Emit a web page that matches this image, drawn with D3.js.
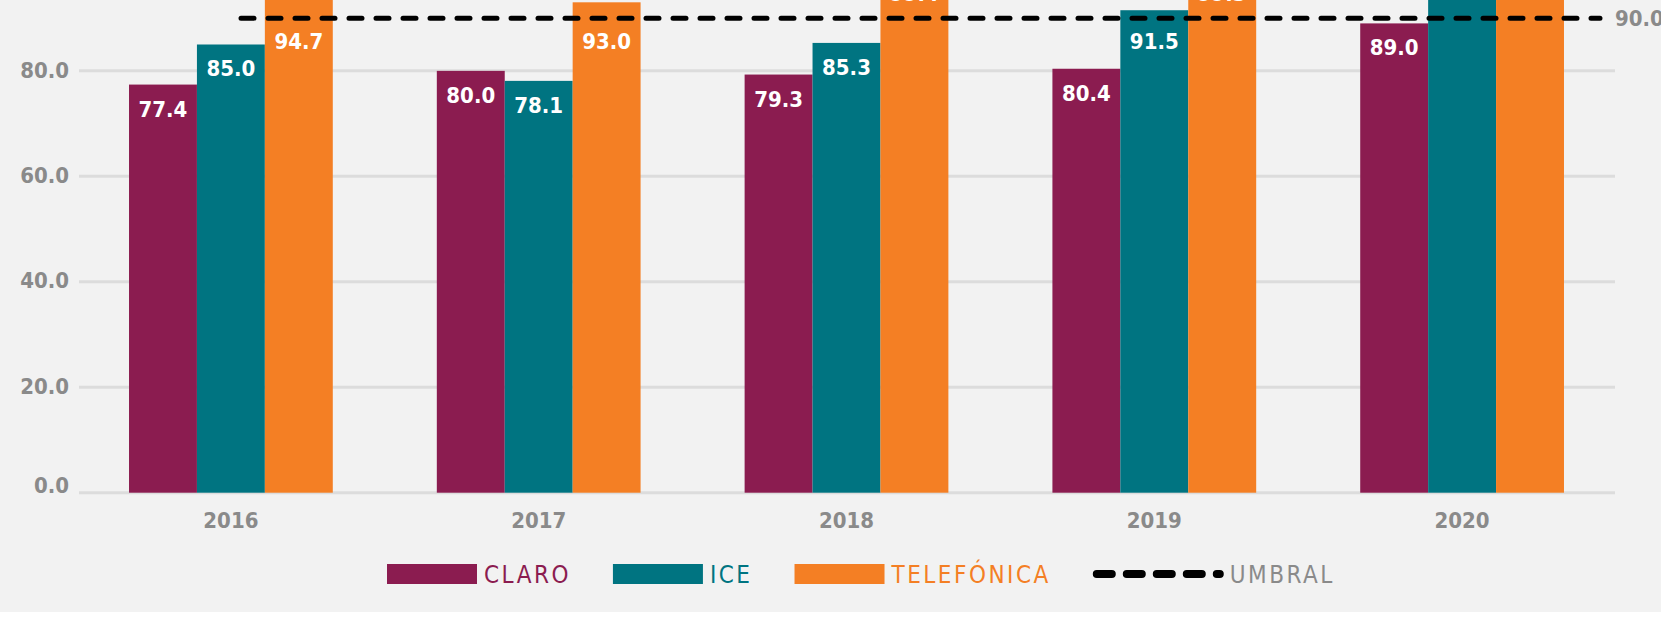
<!DOCTYPE html>
<html lang="es">

<head>
    <meta charset="UTF-8">
    <script src="https://d3js.org/d3.v7.min.js"></script>
    <title>Cobertura</title>
    <style>
        body {
            margin: 0;
            background: #ffffff;
        }

        text {
            font-family: "DejaVu Sans Condensed", "DejaVu Sans", sans-serif;
            font-stretch: condensed;
        }

        .num {
            font-size: 22px;
            font-weight: bold;
        }
    </style>
</head>

<body>
    <script>
        // data (tops of some bars are cut in the original)
        var years = ["2016", "2017", "2018", "2019", "2020"]
        var operators = ["CLARO", "ICE", "TELEFÓNICA"]
        var claro = [77.4, 80.0, 79.3, 80.4, 89.0]
        var ice = [85.0, 78.1, 85.3, 91.5, 100.0]
        var telefonica = [94.7, 93.0, 99.4, 99.3, 100.0]
        var umbral = 90.0
        var yTicks = [0, 20, 40, 60, 80]

        var colors = ["#8b1c50", "#007481", "#f47f24"]
        var gray = "#8a8a8a"

        var width = 1661, height = 631

        var rows = years.map(function (y, i) {
            return { year: y, values: [claro[i], ice[i], telefonica[i]] }
        })

        var svg = d3.select("body")
            .append("svg")
            .attr("width", width)
            .attr("height", height)

        svg.append("rect")
            .attr("width", width)
            .attr("height", 612)
            .attr("fill", "#f2f2f2")

        var x = d3.scaleBand()
            .domain(years)
            .range([77, 1616])
            .paddingInner(0.338)
            .paddingOuter(0.169)

        var xInner = d3.scaleBand()
            .domain(operators)
            .range([0, x.bandwidth()])

        var y = d3.scaleLinear()
            .domain([0, 100])
            .range([492.7, -34.6])

        // grid lines
        svg.append("g")
            .selectAll("line")
            .data(yTicks)
            .join("line")
            .attr("x1", 79)
            .attr("x2", 1615)
            .attr("y1", function (d) { return y(d) })
            .attr("y2", function (d) { return y(d) })
            .attr("stroke", "#dcdcdc")
            .attr("stroke-width", 3)

        // y axis labels
        var yAxis = d3.axisLeft(y)
            .tickValues(yTicks)
            .tickFormat(d3.format(".1f"))
            .tickSize(0)
            .tickPadding(0)

        svg.append("g")
            .attr("transform", "translate(69,0)")
            .call(yAxis)
            .attr("font-family", null)
            .attr("font-size", null)
            .call(function (g) { g.select(".domain").remove() })
            .selectAll("text")
            .attr("class", "num")
            .attr("dy", function (d) { return d === 0 ? "0em" : "0.28em" })
            .attr("fill", gray)

        // x axis labels
        var xAxis = d3.axisBottom(x).tickSize(0).tickPadding(0)
        svg.append("g")
            .attr("transform", "translate(0,492.7)")
            .call(xAxis)
            .attr("font-family", null)
            .attr("font-size", null)
            .call(function (g) { g.select(".domain").remove() })
            .selectAll("text")
            .attr("class", "num")
            .attr("dy", null)
            .attr("y", 35)
            .attr("fill", gray)

        // bars
        var groups = svg.append("g")
            .selectAll("g")
            .data(rows)
            .join("g")
            .attr("transform", function (d) { return "translate(" + x(d.year) + ",0)" })

        var cells = groups.selectAll("g")
            .data(function (d) {
                return d.values.map(function (v, i) { return { op: operators[i], value: v, i: i } })
            })
            .join("g")

        cells.append("rect")
            .attr("x", function (d) { return xInner(d.op) })
            .attr("width", xInner.bandwidth())
            .attr("y", function (d) { return y(d.value) })
            .attr("height", function (d) { return y(0) - y(d.value) })
            .attr("fill", function (d) { return colors[d.i] })

        var lineY = y(umbral)

        cells.append("text")
            .attr("class", "num")
            .attr("x", function (d) { return xInner(d.op) + xInner.bandwidth() / 2 })
            .attr("y", function (d) {
                var base = y(d.value) + 32
                // labels that would sit on the threshold line go below it
                if (base > lineY - 3 && base < lineY + 25) base = lineY + 31
                return base
            })
            .attr("text-anchor", "middle")
            .attr("fill", "#ffffff")
            .text(function (d) { return d3.format(".1f")(d.value) })

        // threshold line
        svg.append("line")
            .attr("x1", 241)
            .attr("x2", 1600)
            .attr("y1", lineY)
            .attr("y2", lineY)
            .attr("stroke", "#000")
            .attr("stroke-width", 5)
            .attr("stroke-linecap", "round")
            .attr("stroke-dasharray", "13,14")

        svg.append("text")
            .attr("class", "num")
            .attr("x", 1615)
            .attr("y", lineY)
            .attr("dy", "0.36em")
            .attr("fill", gray)
            .text(d3.format(".1f")(umbral))

        // legend
        var legendItems = operators.map(function (op, i) {
            return { label: op, color: colors[i], type: "box" }
        })
        legendItems.push({ label: "UMBRAL", color: gray, type: "line" })

        var legend = svg.append("g")
        var lx = 387
        var ly = 574
        legendItems.forEach(function (item) {
            if (item.type === "box") {
                legend.append("rect")
                    .attr("x", lx)
                    .attr("y", ly - 10)
                    .attr("width", 90)
                    .attr("height", 20)
                    .attr("fill", item.color)
            } else {
                legend.append("line")
                    .attr("x1", lx + 4)
                    .attr("x2", lx + 127)
                    .attr("y1", ly)
                    .attr("y2", ly)
                    .attr("stroke", "#000")
                    .attr("stroke-width", 8)
                    .attr("stroke-linecap", "round")
                    .attr("stroke-dasharray", "15,15")
            }
            var sw = item.type === "box" ? 97 : 137
            var t = legend.append("text")
                .attr("x", lx + sw)
                .attr("y", ly)
                .attr("dy", "0.36em")
                .attr("fill", item.color)
                .style("font-size", "24px")
                .style("letter-spacing", "2.5px")
                .text(item.label)
            lx += sw + t.node().getComputedTextLength() + 42
        })
    </script>
</body>

</html>
